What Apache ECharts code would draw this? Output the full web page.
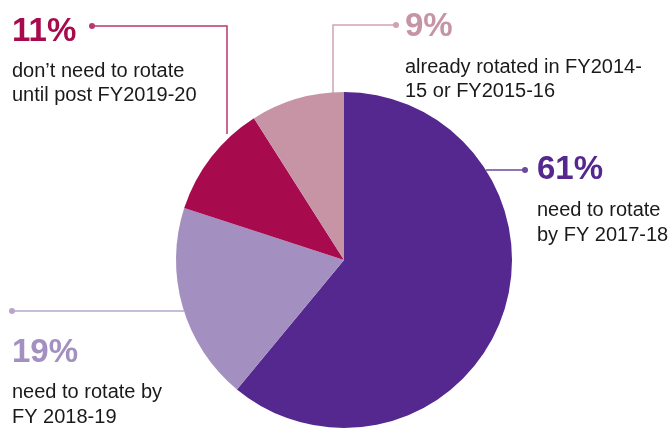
<!DOCTYPE html>
<html>
<head>
<meta charset="utf-8">
<script src="https://cdn.jsdelivr.net/npm/echarts@6/dist/echarts.min.js"></script>
<style>
html,body{margin:0;padding:0;background:#fff;}
#chart{width:671px;height:428px;}
</style>
</head>
<body>
<div id="chart"></div>
<script>
const categories = ['need to rotate by FY 2017-18', 'need to rotate by FY 2018-19', "don’t need to rotate until post FY2019-20", 'already rotated in FY2014-15 or FY2015-16'];
const values = [61, 19, 11, 9];
const colors = ['#54288e', '#a390c0', '#a80a4e', '#c794a6'];
const lineColors = ['#6a4a9c', '#b5a6cc', '#b8386e', '#cfa3b3'];
const pctLabels = ['61%', '19%', '11%', '9%'];
const descLines = [
  ['need to rotate', 'by FY 2017-18'],
  ['need to rotate by', 'FY 2018-19'],
  ['don’t need to rotate', 'until post FY2019-20'],
  ['already rotated in FY2014-', '15 or FY2015-16']
];

const FONT = '"Liberation Sans", Arial, sans-serif';
const chart = echarts.init(document.getElementById('chart'));

function pctText(x, baseline, txt, color) {
  return {type:'text', x:x, y:baseline - 10, silent:true,
    style:{text:txt, fill:color, font:'bold 33px ' + FONT, verticalAlign:'middle', align:'left'}};
}
function bodyText(x, baseline, txt) {
  return {type:'text', x:x, y:baseline - 4, silent:true,
    style:{text:txt, fill:'#1a1a1a', font:'20px ' + FONT, verticalAlign:'middle', align:'left'}};
}
function leader(points, color) {
  const end = points[points.length - 1];
  return [
    {type:'polyline', silent:true, shape:{points:points}, style:{stroke:color, lineWidth:1.5, fill:null}},
    {type:'circle', silent:true, shape:{cx:end[0], cy:end[1], r:3}, style:{fill:color}}
  ];
}

const graphics = [].concat(
  leader([[486,170],[525,170]], lineColors[0]),
  leader([[184,311],[12,311]], lineColors[1]),
  leader([[227,134],[227,26],[92,26]], lineColors[2]),
  leader([[333,93],[333,25],[396,25]], lineColors[3]),
  [
    pctText(537, 180, pctLabels[0], colors[0]),
    bodyText(537, 214, descLines[0][0]),
    bodyText(537, 239, descLines[0][1]),
    pctText(12, 363, pctLabels[1], colors[1]),
    bodyText(12, 396, descLines[1][0]),
    bodyText(12, 421, descLines[1][1]),
    pctText(12, 42, pctLabels[2], colors[2]),
    bodyText(12, 75, descLines[2][0]),
    bodyText(12, 99, descLines[2][1]),
    pctText(405, 37, pctLabels[3], colors[3]),
    bodyText(405, 71, descLines[3][0]),
    bodyText(405, 95, descLines[3][1])
  ]
);

chart.setOption({
  animation:false,
  backgroundColor:'#ffffff',
  series:[{
    type:'pie',
    center:[344, 260],
    radius:[0, 168],
    startAngle:90,
    clockwise:true,
    silent:true,
    label:{show:false},
    labelLine:{show:false},
    itemStyle:{borderWidth:0},
    data: categories.map((c, i) => ({name:c, value:values[i], itemStyle:{color:colors[i]}}))
  }],
  graphic: graphics
});
</script>
</body>
</html>
